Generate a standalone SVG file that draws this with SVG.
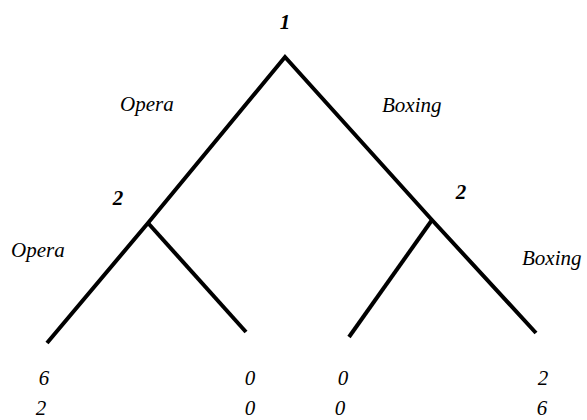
<svg xmlns="http://www.w3.org/2000/svg" width="587" height="420" viewBox="0 0 587 420">
<style>
text{font-family:'Liberation Serif','DejaVu Serif',serif;font-style:italic;font-size:21px;fill:#000}
.b{font-weight:bold}
.m{text-anchor:middle}
.e{stroke:#000;stroke-width:4;fill:none;stroke-linecap:butt}
</style>
<rect width="587" height="420" fill="#fff"/>
<g id="connectors">
<polyline class="e" points="47,343 148,223 285,57 432,220 536,333" stroke-linejoin="miter"/>
<line class="e" x1="148" y1="223" x2="246" y2="332"/>
<line class="e" x1="432" y1="220" x2="349" y2="337"/>
</g>
<g id="node-root"><text class="b m" x="285" y="29">1</text></g>
<g id="node-p2-left"><text class="b m" x="118" y="205">2</text></g>
<g id="node-p2-right"><text class="b m" x="461" y="199">2</text></g>
<g id="labels">
<text x="120" y="111">Opera</text>
<text x="382" y="112">Boxing</text>
<text x="11" y="257">Opera</text>
<text x="522" y="265">Boxing</text>
</g>
<g id="payoff-1"><text class="m" x="44" y="385">6</text><text class="m" x="41" y="415">2</text></g>
<g id="payoff-2"><text class="m" x="250" y="385">0</text><text class="m" x="250" y="415">0</text></g>
<g id="payoff-3"><text class="m" x="343" y="385">0</text><text class="m" x="340" y="415">0</text></g>
<g id="payoff-4"><text class="m" x="543" y="385">2</text><text class="m" x="542" y="415">6</text></g>
</svg>
